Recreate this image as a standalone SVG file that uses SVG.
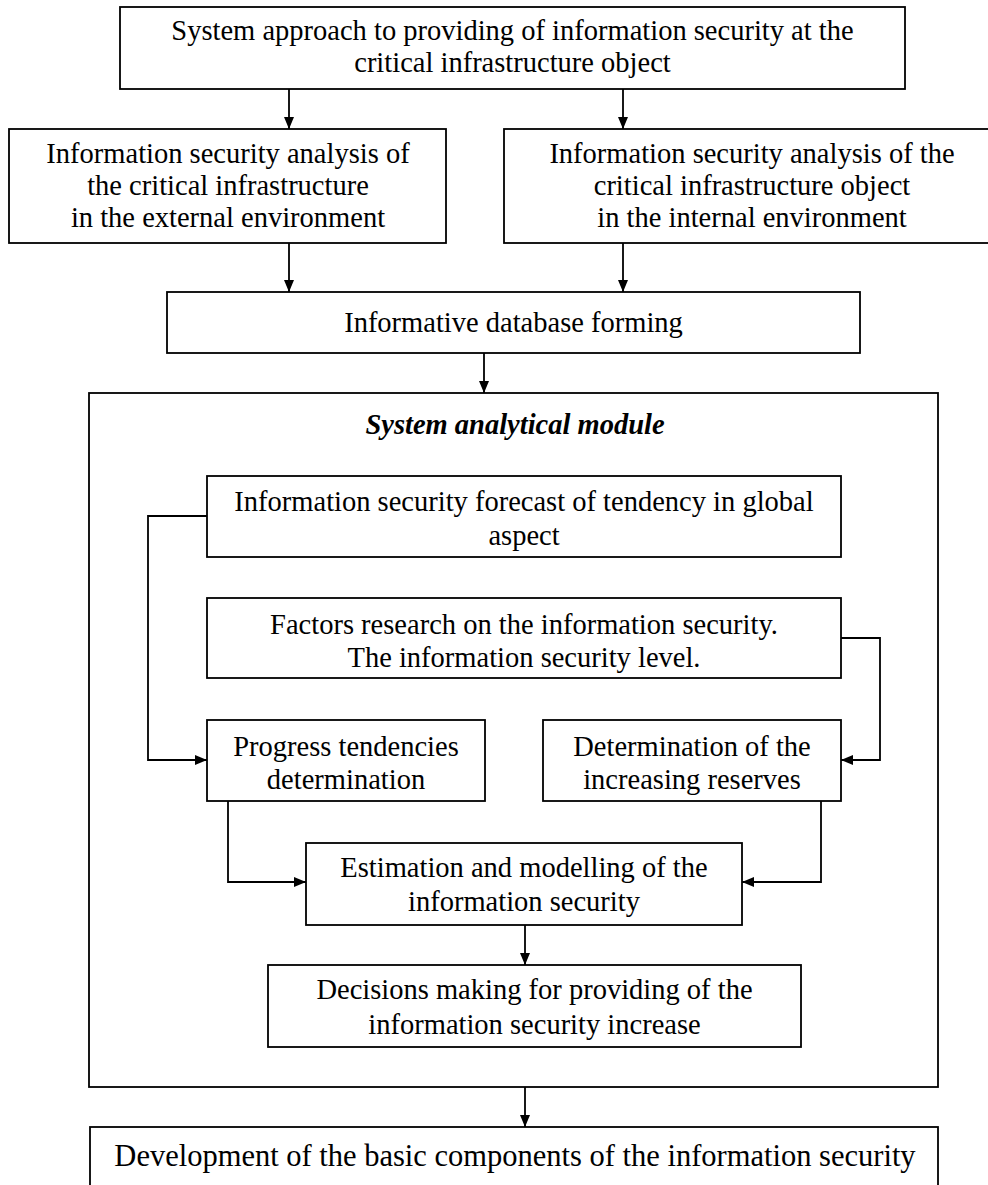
<svg xmlns="http://www.w3.org/2000/svg" width="988" height="1185" viewBox="0 0 988 1185">
<style>
  .box { fill: #fff; stroke: #000; stroke-width: 1.8; }
  .t { font-family: "Liberation Serif", "Times New Roman", serif; font-size: 28.5px; fill: #000; text-anchor: middle; }
  .title { font-weight: bold; font-style: italic; }
  .c { fill: none; stroke: #000; stroke-width: 1.8; }
</style>
<defs>
  <marker id="ah" viewBox="0 0 12 10" refX="12" refY="5" markerWidth="12" markerHeight="10" markerUnits="userSpaceOnUse" orient="auto">
    <path d="M0,0 L12,5 L0,10 Z" fill="#000"/>
  </marker>
</defs>
<rect width="988" height="1185" fill="#fff"/>

<g id="top">
  <rect class="box" x="120" y="7" width="785" height="82"/>
  <text class="t" x="512.5" y="40">System approach to providing of information security at the</text>
  <text class="t" x="512.5" y="72">critical infrastructure object</text>
</g>

<g id="external">
  <rect class="box" x="9" y="129" width="437" height="114"/>
  <text class="t" x="228" y="163">Information security analysis of</text>
  <text class="t" x="228" y="195">the critical infrastructure</text>
  <text class="t" x="228" y="227">in the external environment</text>
</g>

<g id="internal">
  <rect class="box" x="504" y="129" width="500" height="114"/>
  <text class="t" x="752" y="163">Information security analysis of the</text>
  <text class="t" x="752" y="195">critical infrastructure object</text>
  <text class="t" x="752" y="227">in the internal environment</text>
</g>

<g id="database">
  <rect class="box" x="167" y="292" width="693" height="61"/>
  <text class="t" x="513.5" y="332">Informative database forming</text>
</g>

<g id="module">
  <rect class="box" x="89" y="393" width="849" height="694"/>
  <text class="t title" x="515" y="434">System analytical module</text>
</g>

<g id="forecast">
  <rect class="box" x="207" y="476" width="634" height="81"/>
  <text class="t" x="524" y="511">Information security forecast of tendency in global</text>
  <text class="t" x="524" y="545">aspect</text>
</g>

<g id="factors">
  <rect class="box" x="207" y="598" width="634" height="80"/>
  <text class="t" x="524" y="634">Factors research on the information security.</text>
  <text class="t" x="524" y="667">The information security level.</text>
</g>

<g id="progress">
  <rect class="box" x="207" y="720" width="278" height="81"/>
  <text class="t" x="346" y="756">Progress tendencies</text>
  <text class="t" x="346" y="789">determination</text>
</g>

<g id="reserves">
  <rect class="box" x="543" y="720" width="298" height="81"/>
  <text class="t" x="692" y="756">Determination of the</text>
  <text class="t" x="692" y="789">increasing reserves</text>
</g>

<g id="estimation">
  <rect class="box" x="306" y="843" width="436" height="82"/>
  <text class="t" x="524" y="877">Estimation and modelling of the</text>
  <text class="t" x="524" y="911">information security</text>
</g>

<g id="decisions">
  <rect class="box" x="268" y="965" width="533" height="82"/>
  <text class="t" x="534.5" y="999">Decisions making for providing of the</text>
  <text class="t" x="534.5" y="1034">information security increase</text>
</g>

<g id="development">
  <rect class="box" x="90" y="1127" width="848" height="70"/>
  <text class="t" x="515" y="1166" style="font-size:30.5px">Development of the basic components of the information security</text>
</g>

<g id="connectors">
  <path class="c" d="M289,89 V129" marker-end="url(#ah)"/>
  <path class="c" d="M623,89 V129" marker-end="url(#ah)"/>
  <path class="c" d="M289,243 V292" marker-end="url(#ah)"/>
  <path class="c" d="M623,243 V292" marker-end="url(#ah)"/>
  <path class="c" d="M484,353 V393" marker-end="url(#ah)"/>
  <path class="c" d="M207,516 H148 V760 H207" marker-end="url(#ah)"/>
  <path class="c" d="M841,638 H880 V760 H841" marker-end="url(#ah)"/>
  <path class="c" d="M228,801 V882 H306" marker-end="url(#ah)"/>
  <path class="c" d="M821,801 V882 H742" marker-end="url(#ah)"/>
  <path class="c" d="M525,925 V965" marker-end="url(#ah)"/>
  <path class="c" d="M525,1087 V1127" marker-end="url(#ah)"/>
</g>
</svg>
